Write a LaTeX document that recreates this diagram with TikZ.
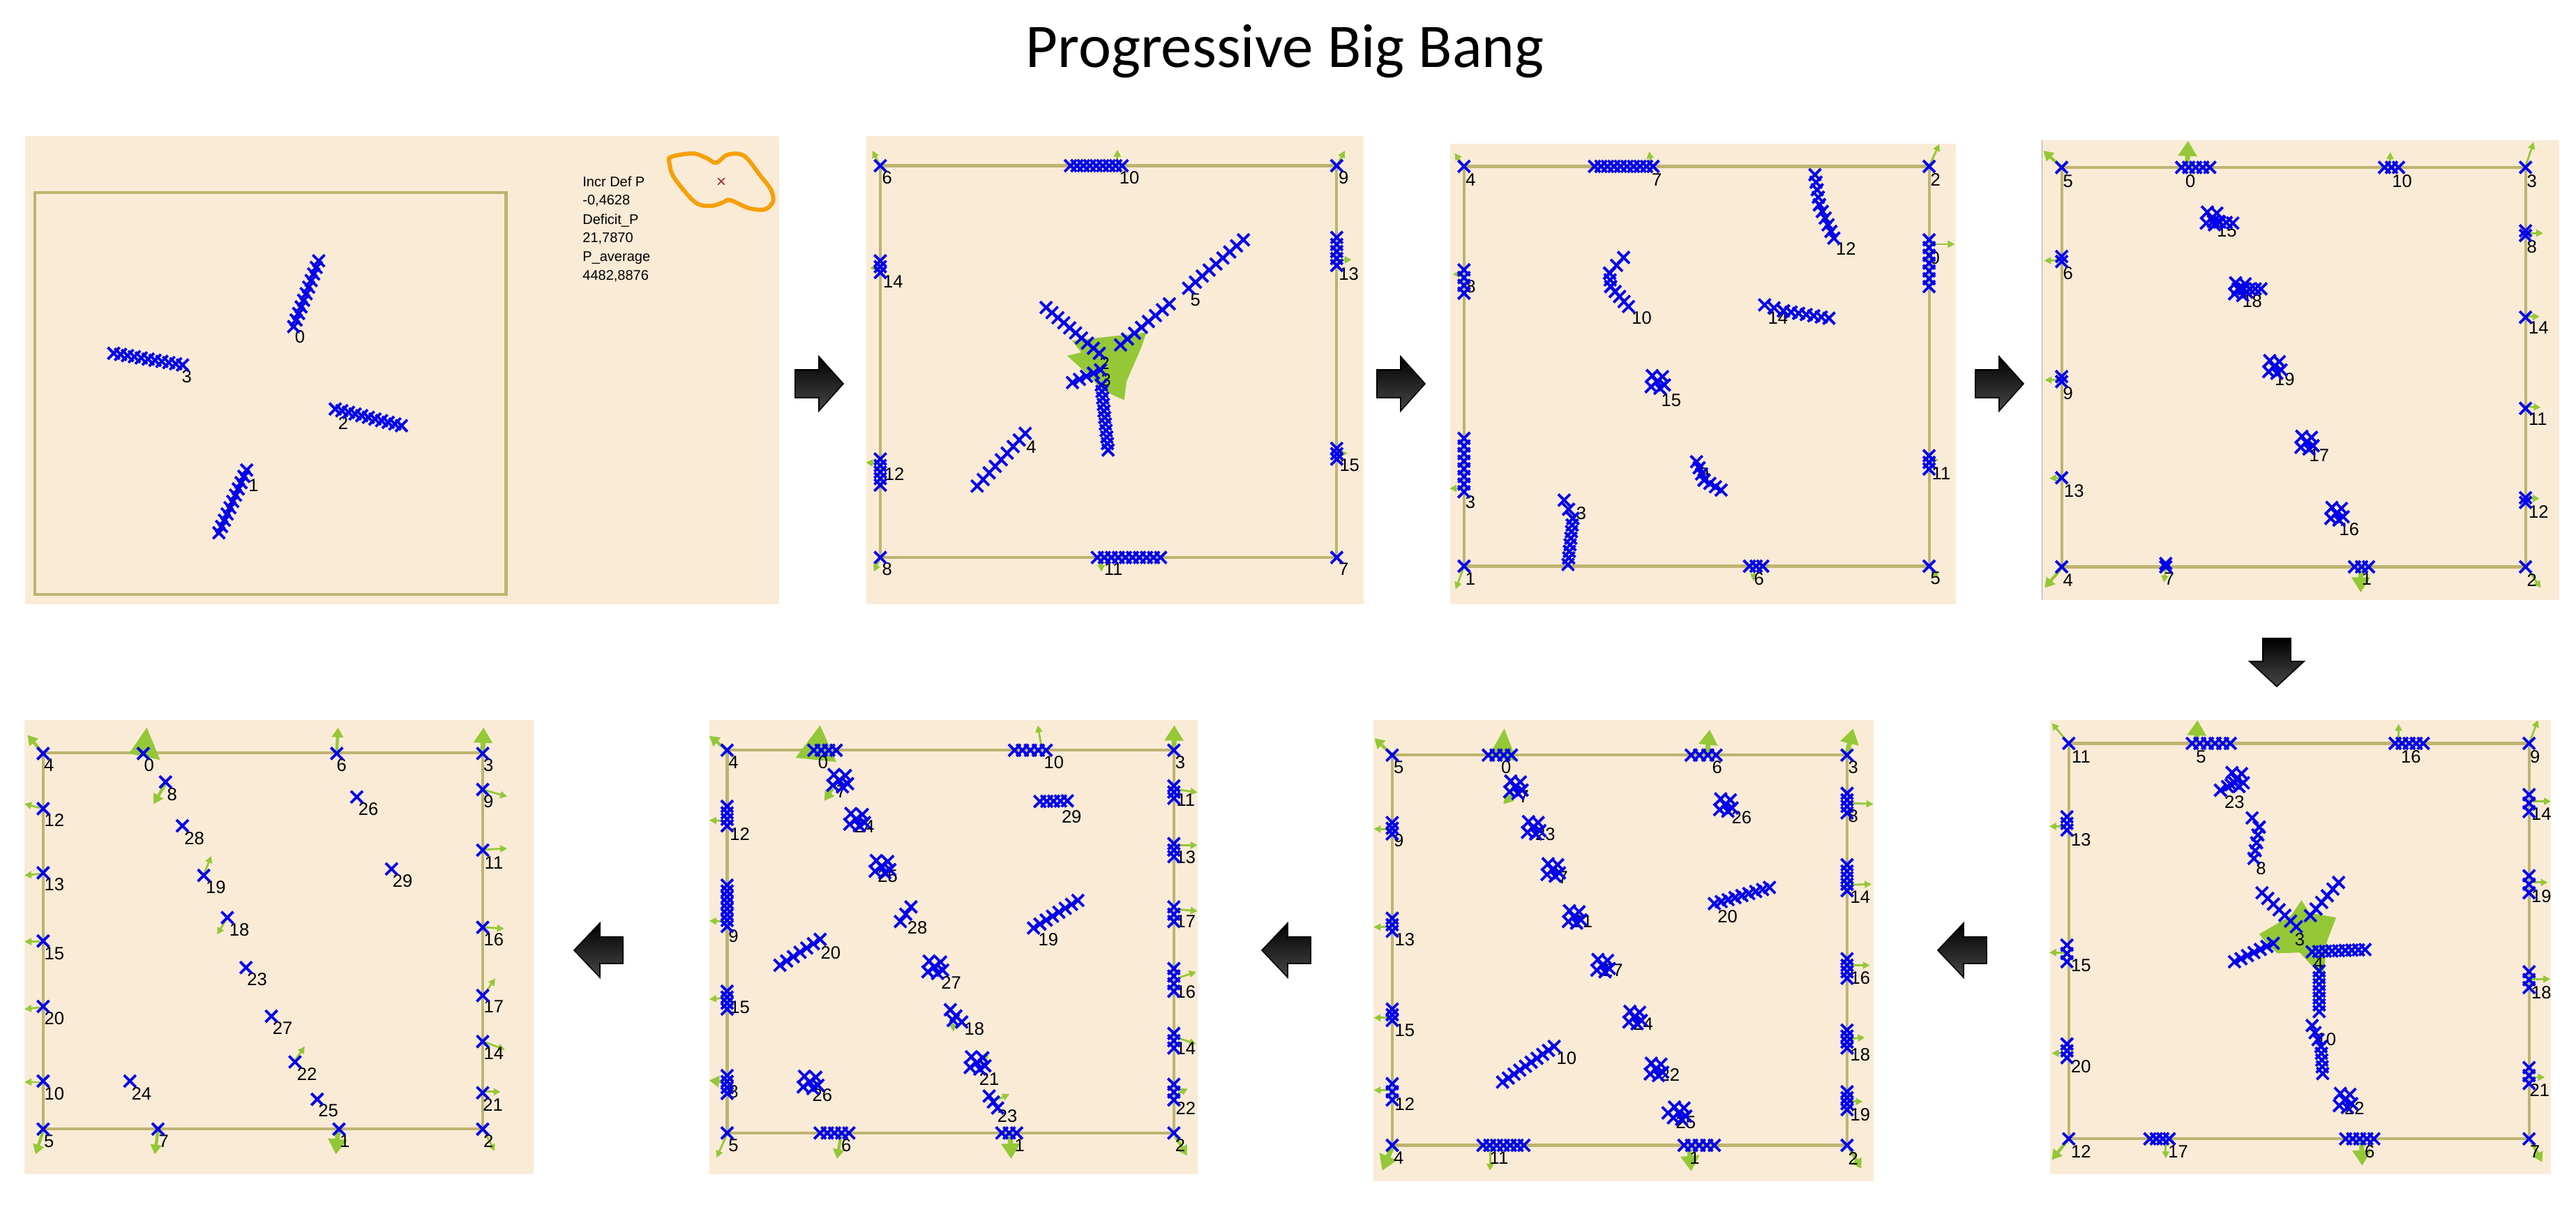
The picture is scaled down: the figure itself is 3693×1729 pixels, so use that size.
\documentclass[tikz,border=0pt]{standalone}
\usepackage{fontspec}
\setmainfont{Liberation Sans}
\newfontfamily\titlefont{Carlito}
\usetikzlibrary{arrows.meta,calc,shapes.misc}
\definecolor{bgc}{RGB}{250,235,215}
\definecolor{olv}{RGB}{190,180,112}
\definecolor{mblue}{RGB}{0,0,235}
\definecolor{grn}{RGB}{148,200,55}
\definecolor{orng}{RGB}{245,160,10}
\definecolor{dred}{RGB}{150,40,50}
\newcount\nn
\newcommand\mk[1]{\global\advance\nn by 1\relax\node[xm] (m\the\nn) at (#1) {};}
\newcommand\mch[3]{\foreach \ii in {0,...,#3}{\global\advance\nn by 1\relax\node[xm] (m\the\nn) at ($(#1)!\ii/#3!(#2)$) {};}}
\newcommand\mcl[1]{\foreach \dx/\dy in {0/0,15/-15,-15/15,20/10,-12/-18,8/20}{\global\advance\nn by 1\relax\node[xm] (m\the\nn) at ($(#1)+(\dx,\dy)$) {};}}
\newcommand\lb[2]{\global\advance\nn by 1\relax\node[lbl] (t\the\nn) at (#1) {#2};}
\newcommand\ga[2]{\draw[garr] (#1) -- (#2);}
\newcommand\gm[2]{\draw[gmed] (#1) -- (#2);}
\newcommand\gb[2]{\draw[gbig] (#1) -- (#2);}
\newcommand\rarr[2]{\shade[blk] (#1,#2-20) -- (#1+34,#2-20) -- (#1+34,#2-39) -- (#1+69,#2) -- (#1+34,#2+39) -- (#1+34,#2+20) -- (#1,#2+20) -- cycle;}
\newcommand\larr[2]{\shade[blk] (#1,#2) -- (#1+37,#2-39) -- (#1+37,#2-19) -- (#1+70,#2-19) -- (#1+70,#2+19) -- (#1+37,#2+19) -- (#1+37,#2+39) -- cycle;}
\begin{document}
\begin{tikzpicture}[x=0.5pt,y=-0.5pt,
  xm/.style={cross out, draw=mblue, line width=1.9pt, minimum size=6.6pt, inner sep=0pt},
  lbl/.style={font=\fontsize{12.8}{15}\selectfont, inner sep=0pt, text=black},
  info/.style={font=\fontsize{10}{12}\selectfont, inner sep=0pt, anchor=base west},
  bgr/.style={fill=bgc},
  frm/.style={draw=olv, line width=2.1pt},
  garr/.style={draw=grn, line width=1.4pt, -{Triangle[length=5pt,width=5pt]}},
  gmed/.style={draw=grn, line width=2.2pt, -{Triangle[length=7pt,width=8pt]}},
  gbig/.style={draw=grn, line width=3.5pt, -{Triangle[length=11pt,width=13pt]}},
  blk/.style={top color=black, bottom color=black!72, draw=black, line width=0.8pt}]
\fill[white] (0,0) rectangle (3693,1729);
\useasboundingbox (0,0) rectangle (3693,1729);
\node[font=\titlefont\fontsize{44.5}{50}\selectfont, anchor=base, inner sep=0pt] (title) at (1842,96) {Progressive Big Bang};

% ---------- Panel 1 ----------
\begin{scope}[shift={(0,150)}, xscale=0.7653, yscale=0.4783]
\fill[bgr] (47,95) rectangle (1460,1497);
\draw[frm] (65,263) rectangle (948,1468);
\lb{562,695}{0} \lb{350,815}{3} \lb{643,955}{2} \lb{475,1140}{1}
\mch{550,665}{597,468}{10}
\mch{213,745}{342,780}{10}
\mch{628,912}{752,962}{10}
\mch{410,1283}{462,1095}{10}
\end{scope}
\node[info] (i1) at (835,267) {Incr Def P};
\node[info] (i2) at (835,293.5) {-0,4628};
\node[info] (i3) at (835,321) {Deficit\_P};
\node[info] (i4) at (835,347) {21,7870};
\node[info] (i5) at (835,374) {P\_average};
\node[info] (i6) at (835,401) {4482,8876};
\draw[orng, line width=3pt] plot[smooth cycle, tension=0.55] coordinates {(961.7,225) (993.3,220) (1013.3,226.7) (1026.7,233.3) (1043.3,221.7) (1066.7,223.3) (1090,251.7) (1105,271.7) (1108.3,288.3) (1096.7,300) (1073.3,298.3) (1046.7,286.7) (1036.7,290) (1020,295) (996.7,290) (966.7,255) (960,235)};
\node[cross out, draw=dred, line width=0.8pt, minimum size=4pt, inner sep=0pt] (redx) at (1034,260) {};

\rarr{1140}{550}
\rarr{1974}{550}
\rarr{2832}{550}

% ---------- Panel 2 ----------
\begin{scope}[shift={(1200,150)}, xscale=0.574, yscale=0.4783]
\fill[bgr] (73,95) rectangle (1315,1497);
\draw[frm] (108,183) rectangle (1248,1357);
\ga{108,183}{88,138} \ga{1248,183}{1268,138} \ga{108,1357}{92,1400}
\ga{700,180}{700,135} \ga{660,1360}{660,1400}
\ga{105,488}{82,490} \ga{105,1075}{72,1072} \ga{1252,465}{1285,465} \ga{1252,1045}{1275,1045}
\fill[grn] (586.6,707.3) -- (772.3,683) -- (760.8,724.9) -- (723,829.4) -- (717.2,885) -- (696.9,874.6) -- (656.3,850.3) -- (633,815.4) -- (574.9,752.7) -- (609.8,742.2) -- cycle;
\lb{125,218}{6} \lb{1265,218}{9} \lb{125,1392}{8} \lb{1265,1392}{7}
\lb{730,218}{10} \lb{690,1392}{11} \lb{140,530}{14} \lb{143,1108}{12}
\lb{1278,508}{13} \lb{1280,1080}{15} \lb{895,585}{5} \lb{485,1025}{4}
\lb{668,775}{2} \lb{672,825}{3}
\mk{108,183} \mk{1248,183} \mk{108,1357} \mk{1248,1357}
\mch{583,183}{712,183}{8}
\mch{650,1357}{808,1357}{9}
\mch{108,468}{108,503}{2}
\mch{108,1062}{108,1140}{4}
\mch{1248,398}{1248,482}{4}
\mch{1248,1030}{1248,1062}{2}
\mch{878,550}{1015,405}{8}
\mch{708,720}{830,597}{7}
\mch{522,608}{655,745}{9}
\mch{588,833}{658,795}{4}
\mch{660,840}{677,1035}{10}
\mch{350,1143}{470,985}{8}
\end{scope}

% ---------- Panel 3 ----------
\begin{scope}[shift={(2050,150)}, xscale=0.5421, yscale=0.4783]
\fill[bgr] (53,117) rectangle (1390,1497);
\draw[frm] (90,185) rectangle (1320,1383);
\ga{90,185}{65,145} \ga{1320,185}{1347,118} \ga{90,1383}{68,1452} \ga{1325,1392}{1345,1418}
\ga{585,182}{580,140} \ga{88,508}{60,508} \ga{88,1150}{52,1150} \ga{1322,418}{1388,418}
\ga{1322,1065}{1345,1065} \ga{858,1395}{855,1428}
\lb{108,225}{4} \lb{1337,225}{2} \lb{107,1420}{1} \lb{1337,1420}{5}
\lb{600,225}{7} \lb{108,545}{8} \lb{107,1190}{3} \lb{1335,460}{0}
\lb{1352,1105}{11} \lb{870,1420}{6} \lb{1100,432}{12} \lb{560,640}{10}
\lb{920,640}{14} \lb{638,887}{15} \lb{725,1108}{9} \lb{400,1225}{3}
\mk{90,185} \mk{1320,185} \mk{90,1383} \mk{1320,1383}
\mch{435,185}{590,185}{9}
\mch{90,495}{90,565}{3}
\mch{90,1000}{90,1160}{7}
\mch{1320,405}{1320,545}{6}
\mch{1320,1052}{1320,1092}{2}
\mch{845,1383}{880,1383}{2}
\mch{1018,210}{1030,300}{4} \mch{1030,300}{1068,400}{5}
\mch{512,458}{475,505}{2} \mch{475,505}{478,545}{2} \mch{478,545}{525,605}{4}
\mch{885,600}{935,618}{2} \mch{935,618}{1055,640}{6}
\mcl{600,830}
\mch{705,1070}{725,1125}{3} \mch{725,1125}{770,1155}{3}
\mch{355,1185}{378,1240}{2} \mch{378,1240}{365,1378}{7}
\end{scope}

% ---------- Panel 4 ----------
\begin{scope}[shift={(2900,150)}, xscale=0.5057, yscale=0.4783]
\fill[bgr] (55,107) rectangle (1520,1485);
\draw[black!35, line width=0.6pt] (55,107) -- (55,1485);
\draw[frm] (110,188) rectangle (1425,1385);
\gm{110,188}{58,138} \ga{1425,185}{1448,112} \gm{110,1388}{62,1448} \ga{1430,1390}{1468,1448}
\gb{466,185}{468,108} \ga{1040,183}{1042,142} \ga{405,1390}{400,1432} \gb{958,1392}{958,1462}
\ga{108,465}{60,468} \ga{108,825}{62,825} \ga{108,1118}{75,1120}
\ga{1430,385}{1475,385} \ga{1430,635}{1465,635} \ga{1430,905}{1468,907} \ga{1430,1180}{1465,1180}
\lb{128,230}{5} \lb{1443,230}{3} \lb{128,1425}{4} \lb{1443,1425}{2}
\lb{475,230}{0} \lb{1075,230}{10} \lb{415,1420}{7} \lb{975,1420}{1}
\lb{128,505}{6} \lb{128,865}{9} \lb{145,1157}{13}
\lb{1443,425}{8} \lb{1462,668}{14} \lb{1460,943}{11} \lb{1462,1220}{12}
\lb{578,378}{15} \lb{650,588}{18} \lb{742,823}{19} \lb{840,1050}{17} \lb{925,1272}{16}
\mk{110,188} \mk{1425,188} \mk{110,1385} \mk{1425,1385}
\mch{450,188}{530,188}{4}
\mch{1025,188}{1065,188}{2}
\mk{405,1385} \mk{405,1375}
\mch{940,1385}{980,1385}{2}
\mk{110,455} \mk{110,470} \mk{110,815} \mk{110,830} \mk{110,1118}
\mk{1425,378} \mk{1425,392} \mk{1425,637} \mk{1425,910} \mk{1425,1178} \mk{1425,1192}
\mcl{535,340} \mch{540,350}{595,355}{3}
\mcl{615,552} \mch{610,552}{675,552}{4}
\mcl{712,785}
\mcl{803,1012}
\mcl{888,1225}
\end{scope}

% down arrow
\shade[blk] (3244,915) -- (3284,915) -- (3284,948) -- (3303,948) -- (3264,984) -- (3225,948) -- (3244,948) -- cycle;

% ---------- Panel 5 ----------
\begin{scope}[shift={(2900,900)}, xscale=0.5057, yscale=0.5287]
\fill[bgr] (78,250) rectangle (1497,1480);
\draw[frm] (130,313) rectangle (1435,1385);
\ga{130,313}{82,258} \ga{1435,313}{1460,250} \gm{130,1385}{82,1442} \gm{1440,1390}{1472,1448}
\gb{492,310}{495,250} \ga{1065,310}{1065,260} \ga{405,1390}{405,1438} \gb{960,1390}{962,1458}
\ga{120,538}{75,538} \ga{120,880}{75,880} \ga{120,1153}{82,1153}
\ga{1440,470}{1497,470} \ga{1440,690}{1488,690} \ga{1440,952}{1495,952} \ga{1440,1218}{1480,1218}
\fill[grn] (670,830) -- (760,780) -- (790,738) -- (812,772) -- (888,785) -- (862,850) -- (852,950) -- (785,880) -- (722,882) -- (695,860) -- cycle;
\lb{165,350}{11} \lb{1452,350}{9} \lb{165,1420}{12} \lb{1452,1420}{7}
\lb{505,350}{5} \lb{1100,350}{16} \lb{440,1420}{17} \lb{983,1420}{6}
\lb{165,575}{13} \lb{165,915}{15} \lb{165,1190}{20}
\lb{1470,505}{14} \lb{1470,728}{19} \lb{1470,988}{18} \lb{1465,1253}{21}
\lb{600,473}{23} \lb{675,652}{8} \lb{785,845}{3} \lb{838,910}{4} \lb{860,1115}{10} \lb{940,1303}{22}
\mk{130,313} \mk{1435,313} \mk{130,1385} \mk{1435,1385}
\mch{480,313}{588,313}{5}
\mch{1055,313}{1135,313}{4}
\mch{360,1385}{415,1385}{3}
\mch{915,1385}{995,1385}{4}
\mch{125,512}{125,548}{2} \mch{125,860}{125,905}{2} \mch{125,1128}{125,1165}{2}
\mch{1435,452}{1435,498}{2} \mch{1435,672}{1435,718}{2} \mch{1435,932}{1435,975}{2} \mch{1435,1192}{1435,1235}{2}
\mcl{605,410} \mch{560,440}{600,420}{2}
\mch{650,515}{670,540}{1} \mch{670,540}{655,625}{4}
\mch{678,718}{775,810}{6}
\mch{815,780}{895,690}{5}
\mch{600,905}{710,855}{6}
\mch{820,878}{970,872}{8}
\mch{840,930}{840,1040}{6}
\mch{820,1078}{845,1135}{3} \mch{845,1135}{850,1208}{4}
\mcl{912,1280}
\end{scope}

\larr{2778}{1362}
\larr{1809}{1362}
\larr{823}{1362}

% ---------- Panel 6 ----------
\begin{scope}[shift={(1950,1000)}, xscale=0.5102, yscale=0.4649]
\fill[bgr] (38,68) rectangle (1443,1490);
\draw[frm] (90,177) rectangle (1368,1380);
\gm{90,177}{40,125} \gb{1368,172}{1385,95} \gb{90,1385}{62,1458} \gm{1375,1390}{1408,1452}
\fill[grn] (405,95) -- (440,195) -- (360,182) -- cycle;
\gb{975,175}{982,98} \ga{365,1390}{365,1458} \gb{925,1390}{930,1460}
\ga{85,405}{38,405} \ga{85,707}{38,707} \ga{85,987}{38,987} \ga{85,1210}{38,1210}
\ga{1375,325}{1442,328} \ga{1375,577}{1437,575} \ga{1375,825}{1432,825} \ga{1375,1052}{1418,1047} \ga{1375,1245}{1412,1245}
\gm{430,295}{402,328}
\lb{108,215}{5} \lb{1385,215}{3} \lb{108,1420}{4} \lb{1385,1420}{2}
\lb{410,215}{0} \lb{1003,215}{6} \lb{390,1420}{11} \lb{940,1420}{1}
\lb{108,440}{9} \lb{125,745}{13} \lb{125,1025}{15} \lb{125,1253}{12}
\lb{1385,365}{8} \lb{1405,615}{14} \lb{1405,865}{16} \lb{1405,1100}{18} \lb{1405,1285}{19}
\lb{460,305}{7} \lb{520,420}{23} \lb{570,555}{7} \lb{625,690}{21} \lb{710,840}{27}
\lb{795,1005}{24} \lb{870,1163}{22} \lb{915,1310}{25} \lb{1072,370}{26} \lb{1032,675}{20} \lb{580,1112}{10}
\mk{90,177} \mk{1368,177} \mk{90,1380} \mk{1368,1380}
\mch{360,177}{425,177}{3}
\mch{930,177}{1000,177}{3}
\mch{345,1380}{460,1380}{6}
\mch{910,1380}{995,1380}{4}
\mch{90,385}{90,420}{2} \mch{90,680}{90,720}{2} \mch{90,960}{90,995}{2} \mch{90,1190}{90,1240}{2}
\mch{1368,295}{1368,355}{3} \mch{1368,515}{1368,595}{4} \mch{1368,805}{1368,865}{3} \mch{1368,1025}{1368,1080}{3} \mch{1368,1215}{1368,1270}{3}
\mcl{435,275} \mcl{485,400} \mcl{540,530} \mcl{600,675} \mcl{680,825}
\mcl{770,985} \mcl{830,1145} \mcl{895,1280} \mk{865,1280} \mcl{1025,330}
\mch{995,635}{1150,585}{8}
\mch{400,1185}{545,1075}{9}
\end{scope}

% ---------- Panel 7 ----------
\begin{scope}[shift={(1000,1000)}, xscale=0.6059, yscale=0.4649]
\fill[bgr] (28,68) rectangle (1183,1468);
\draw[frm] (70,162) rectangle (1127,1342);
\gm{70,162}{28,118} \gb{1127,160}{1128,85} \ga{70,1345}{45,1418} \gm{1130,1350}{1158,1412}
\fill[grn] (290,85) -- (328,198) -- (232,185) -- cycle;
\ga{815,160}{805,85} \gm{340,1345}{330,1422} \gb{740,1345}{742,1422}
\ga{65,380}{28,378} \ga{65,690}{28,688} \ga{65,925}{28,930} \gm{65,1185}{28,1180}
\ga{1135,283}{1183,292} \ga{1135,455}{1183,455} \ga{1135,652}{1183,658} \ga{1135,865}{1180,845} \ga{1135,1048}{1180,1068} \ga{1135,1222}{1160,1205}
\gm{320,280}{300,318} \ga{605,1005}{605,1030} \ga{680,1108}{690,1095} \ga{712,1238}{738,1222}
\lb{85,200}{4} \lb{1142,200}{3} \lb{85,1380}{5} \lb{1142,1380}{2}
\lb{297,200}{0} \lb{843,200}{10} \lb{352,1380}{6} \lb{762,1380}{1}
\lb{100,420}{12} \lb{85,735}{9} \lb{100,955}{15} \lb{85,1215}{8}
\lb{1155,315}{11} \lb{1155,492}{13} \lb{1155,690}{17} \lb{1155,908}{16} \lb{1155,1082}{14} \lb{1155,1267}{22}
\lb{340,290}{7} \lb{395,398}{24} \lb{450,550}{25} \lb{520,710}{28} \lb{600,878}{27}
\lb{655,1022}{18} \lb{690,1175}{21} \lb{733,1290}{23} \lb{295,1225}{26} \lb{885,368}{29}
\lb{830,745}{19} \lb{315,787}{20}
\mk{70,162} \mk{1127,162} \mk{70,1342} \mk{1127,1342}
\mch{275,162}{328,162}{3}
\mch{750,162}{825,162}{4}
\mch{290,1342}{358,1342}{4}
\mch{720,1342}{755,1342}{2}
\mch{70,335}{70,395}{3} \mch{70,578}{70,705}{7} \mch{70,905}{70,960}{3} \mch{70,1165}{70,1220}{3}
\mch{1127,272}{1127,310}{2} \mch{1127,450}{1127,490}{2} \mch{1127,645}{1127,690}{2}
\mch{1127,835}{1127,905}{3} \mch{1127,1035}{1127,1080}{2} \mch{1127,1192}{1127,1240}{2}
\mcl{335,255} \mcl{375,375} \mcl{435,520}
\mch{480,690}{505,645}{2}
\mcl{560,830}
\mch{598,962}{625,1000}{2} \mk{605,995}
\mcl{660,1125}
\mch{690,1228}{710,1265}{2}
\mcl{265,1185}
\mch{810,320}{875,318}{4}
\mch{795,710}{900,625}{7}
\mch{195,825}{290,745}{6}
\end{scope}

% ---------- Panel 8 ----------
\begin{scope}[shift={(0,1000)}, xscale=0.6378, yscale=0.4649]
\fill[bgr] (55,68) rectangle (1200,1470);
\draw[frm] (97,170) rectangle (1085,1330);
\gm{97,172}{62,115} \gb{1085,165}{1087,92} \gm{97,1335}{80,1408} \ga{1090,1340}{1112,1398}
\fill[grn] (330,92) -- (360,192) -- (290,172) -- cycle;
\gm{757,165}{760,92} \gm{355,1335}{348,1408} \gb{760,1335}{755,1408}
\ga{90,340}{55,327} \ga{90,543}{55,548} \ga{90,752}{55,752} \ga{90,955}{55,960} \ga{90,1185}{55,1185}
\ga{1090,285}{1140,305} \ga{1090,468}{1140,465} \ga{1090,708}{1133,712} \ga{1090,912}{1113,865} \ga{1090,1062}{1135,1085} \ga{1090,1215}{1125,1215}
\gm{372,265}{345,328} \ga{458,545}{475,488} \ga{508,685}{488,730} \ga{663,1118}{685,1075}
\lb{110,208}{4} \lb{1098,208}{3} \lb{110,1368}{5} \lb{1098,1368}{2}
\lb{335,208}{0} \lb{768,208}{6} \lb{368,1368}{7} \lb{775,1368}{1}
\lb{122,378}{12} \lb{122,576}{13} \lb{122,788}{15} \lb{122,988}{20} \lb{122,1220}{10}
\lb{1098,320}{9} \lb{1110,510}{11} \lb{1110,745}{16} \lb{1110,953}{17} \lb{1110,1097}{14} \lb{1108,1255}{21}
\lb{387,298}{8} \lb{437,433}{28} \lb{485,585}{19} \lb{538,715}{18} \lb{578,868}{23}
\lb{635,1018}{27} \lb{690,1160}{22} \lb{738,1273}{25} \lb{318,1220}{24} \lb{828,343}{26} \lb{905,565}{29}
\mk{97,172} \mk{1085,172} \mk{97,1330} \mk{1085,1330}
\mk{322,172} \mk{757,172} \mk{355,1330} \mk{762,1330}
\mk{97,342} \mk{97,540} \mk{97,750} \mk{97,952} \mk{97,1182}
\mk{1085,283} \mk{1085,470} \mk{1085,708} \mk{1085,918} \mk{1085,1060} \mk{1085,1218}
\mk{372,260} \mk{410,395} \mk{458,548} \mk{511,678} \mk{553,832} \mk{610,982}
\mk{663,1123} \mk{713,1238} \mk{292,1182} \mk{802,306} \mk{880,528}
\end{scope}
\end{tikzpicture}
\end{document}
